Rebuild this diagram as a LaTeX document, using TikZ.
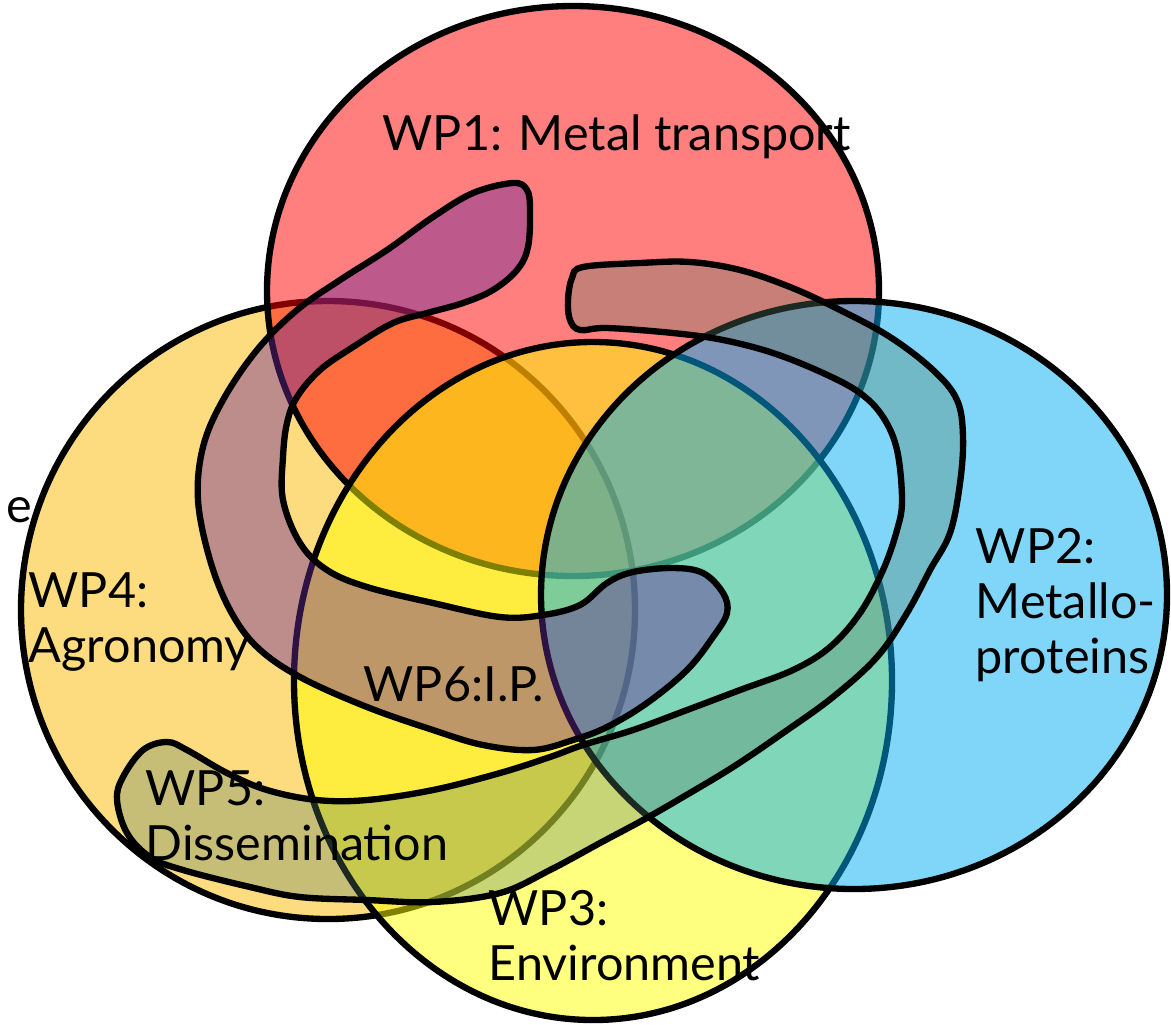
\documentclass[tikz,border=0pt]{standalone}
\usepackage{fontspec}
\setmainfont{Lato}
\definecolor{wpred}{RGB}{255,0,0}
\definecolor{wporange}{RGB}{253,187,0}
\definecolor{wpyellow}{RGB}{255,255,0}
\definecolor{wpblue}{RGB}{0,174,242}
\definecolor{ipcol}{RGB}{107,42,155}
\definecolor{dissemcol}{RGB}{88,128,104}
\tikzset{venn/.style={draw=black, line width=1.8pt, fill opacity=0.5}}
\tikzset{blob/.style={draw=black, line width=1.8pt, fill opacity=#1}}
\tikzset{wplabel/.style={anchor=base west, inner sep=0pt, align=left,
    font=\fontsize{13.8}{15.6}\selectfont}}

\begin{document}
\begin{tikzpicture}[x=0.01cm, y=-0.01cm]
  \useasboundingbox (0,0) rectangle (1171,1024);
  \fill[white] (0,0) rectangle (1171,1024);

  % the four work packages
  \draw[venn, fill=wporange] (328,610) ellipse [x radius=307, y radius=309];
  \draw[venn, fill=wpred] (573,291) ellipse [x radius=306, y radius=285];
  \draw[venn, fill=wpyellow] (593,681) ellipse [x radius=299, y radius=339];
  \draw[venn, fill=wpblue] (854,595) ellipse [x radius=313, y radius=294];

  % WP6 hook
  \draw[blob=0.44, fill=ipcol] plot [smooth cycle, tension=0.6] coordinates {
    (513,183) (473,193) (433,217) (387,250) (340,280) (297,310) (257,350)
    (223,400) (203,447) (198,500) (210,560) (230,610) (257,647) (300,677)
    (367,707) (433,730) (483,745) (533,750) (573,740) (607,727) (647,703)
    (687,670) (713,637) (727,613) (723,593) (703,573) (673,568) (633,572)
    (607,583) (580,605) (543,615) (500,617) (433,603) (367,587) (327,570)
    (300,543) (283,500) (283,457) (287,423) (297,397) (320,370) (353,347)
    (393,323) (427,313) (463,303) (493,290) (517,270) (528,247) (530,210)
    (527,190)};

  % WP5 loop
  \draw[blob=0.33, fill=dissemcol] plot [smooth cycle, tension=0.6] coordinates {
    (583,267) (640,263) (690,262) (740,270) (790,287) (840,310) (890,337)
    (933,370) (957,400) (963,437) (960,483) (950,533) (930,570) (907,613)
    (877,657) (833,697) (783,733) (733,767) (683,797) (643,820) (600,843)
    (550,870) (500,893) (433,902) (367,900) (300,897) (250,887) (183,870)
    (150,857) (127,833) (117,800) (123,777) (143,750) (167,742) (187,750)
    (227,773) (267,790) (317,800) (367,800) (433,790) (500,773) (550,757)
    (583,745) (633,730) (687,710) (740,690) (793,670) (830,647) (860,613)
    (883,570) (897,530) (902,500) (897,450) (883,417) (860,393) (823,373)
    (773,353) (723,340) (673,333) (607,328) (580,330) (570,320) (568,300)
    (572,278)};

  \node (WP1) [wplabel] at (382,150) {WP1: Metal transport};
  \node (WP2) [wplabel] at (975,673) {WP2:\\Metallo-\\proteins};
  \node (WP3) [wplabel] at (488,980) {WP3:\\Environment};
  \node (WP4) [wplabel] at (28,662) {WP4:\\Agronomy};
  \node (WP5) [wplabel] at (145,860) {WP5:\\Dissemination};
  \node (WP6) [wplabel] at (363,701) {WP6:I.P.};
  \node (cut) [wplabel] at (6,522) {e};
\end{tikzpicture}
\end{document}
